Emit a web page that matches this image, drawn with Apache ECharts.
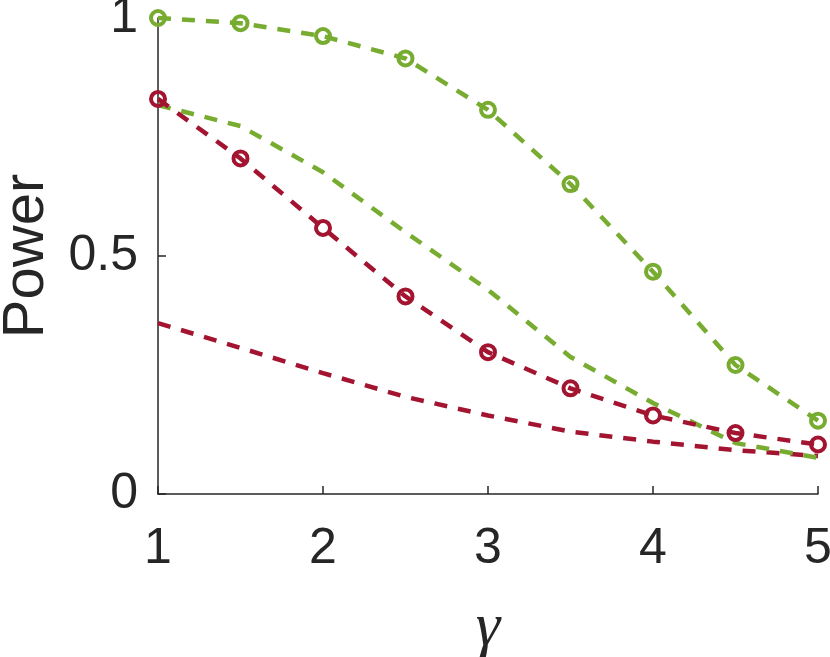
<!DOCTYPE html>
<html>
<head>
<meta charset="utf-8">
<script src="https://cdn.jsdelivr.net/npm/echarts@6/dist/echarts.min.js"></script>
<style>
html,body{margin:0;padding:0;background:#fff;}
#c{width:830px;height:657px;}
</style>
</head>
<body>
<div id="c"></div>
<script>
const gammaValues = [1, 1.5, 2, 2.5, 3, 3.5, 4, 4.5, 5];
const greenMarked = [1.0, 0.989, 0.962, 0.915, 0.807, 0.651, 0.467, 0.271, 0.154];
const greenDashed = [0.817, 0.773, 0.676, 0.55, 0.429, 0.288, 0.191, 0.107, 0.076];
const redMarked = [0.830, 0.705, 0.559, 0.415, 0.298, 0.222, 0.165, 0.128, 0.104];
const redDashed = [0.359, 0.307, 0.254, 0.204, 0.165, 0.131, 0.110, 0.092, 0.080];
const xTicks = [1, 2, 3, 4, 5];
const yTicks = [0, 0.5, 1];

const GREEN = '#77AC30';
const RED = '#A2142F';
const AXIS = '#262626';

function pairs(ys){ return gammaValues.map((x,i)=>[x, ys[i]]); }

function lineSeries(ys, color, marked){
  return {
    type: 'line',
    data: pairs(ys),
    showSymbol: marked,
    symbol: marked ? 'circle' : 'none',
    symbolSize: 14,
    clip: false,
    silent: true,
    lineStyle: {color: color, width: 4.5, type: [13, 11]},
    itemStyle: {color: 'rgba(0,0,0,0)', borderColor: color, borderWidth: 4},
    emphasis: {disabled: true},
    z: marked ? 3 : 2
  };
}

const chart = echarts.init(document.getElementById('c'), null, {renderer: 'canvas'});
chart.setOption({
  animation: false,
  backgroundColor: '#fff',
  grid: {left: 158, right: 12, top: 18, bottom: 163, containLabel: false, outerBoundsMode: 'none'},
  xAxis: {
    type: 'value', min: xTicks[0], max: xTicks[xTicks.length-1], interval: 1,
    name: 'γ', nameLocation: 'middle', nameGap: 104,
    nameTextStyle: {fontFamily: 'Liberation Serif', fontStyle: 'italic', fontSize: 62, color: AXIS},
    axisLine: {show: true, lineStyle: {color: AXIS, width: 1.5}},
    axisTick: {show: true, inside: true, length: 8, lineStyle: {color: AXIS, width: 1.5}},
    axisLabel: {fontFamily: 'Liberation Sans', fontSize: 50, color: AXIS, margin: 30,
      formatter: v => xTicks.includes(v) ? String(v) : ''},
    splitLine: {show: false}
  },
  yAxis: {
    type: 'value', min: yTicks[0], max: yTicks[yTicks.length-1], interval: 0.5,
    name: 'Power', nameLocation: 'middle', nameGap: 102, nameRotate: 90,
    nameTextStyle: {fontFamily: 'Liberation Sans', fontSize: 58, color: AXIS},
    axisLine: {show: true, lineStyle: {color: AXIS, width: 1.5}},
    axisTick: {show: true, inside: true, length: 8, lineStyle: {color: AXIS, width: 1.5}},
    axisLabel: {fontFamily: 'Liberation Sans', fontSize: 50, color: AXIS, margin: 20,
      formatter: v => yTicks.includes(v) ? String(v) : ''},
    splitLine: {show: false}
  },
  series: [
    lineSeries(redDashed, RED, false),
    lineSeries(greenDashed, GREEN, false),
    lineSeries(redMarked, RED, true),
    lineSeries(greenMarked, GREEN, true)
  ]
});
</script>
</body>
</html>
